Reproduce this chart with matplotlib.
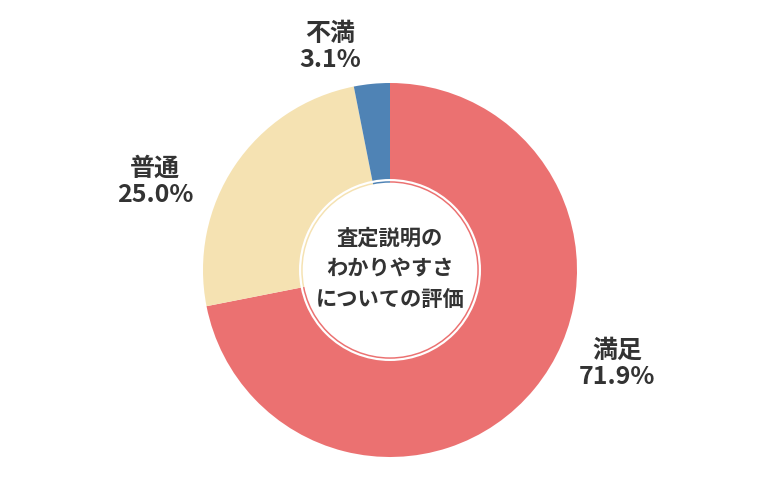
import matplotlib
matplotlib.use("Agg")
import matplotlib.pyplot as plt
from matplotlib.patches import Circle, Wedge

plt.rcParams["font.family"] = ["Noto Sans CJK JP", "DejaVu Sans"]

labels = ["満足", "普通", "不満"]
values = [71.9, 25.0, 3.1]
colors = ["#EB7171", "#F5E2B2", "#4F83B5"]
center_title = "査定説明の\nわかりやすさ\nについての評価"

# label positions in pixels (x, y from bottom)
label_pos = [(617, 136), (155, 318), (330, 453)]

fig = plt.figure(figsize=(7.8, 5), dpi=100)
ax = fig.add_axes([0, 0, 1, 1])

cx, cy, r = 390, 230, 187
ax.pie(values, colors=colors, startangle=90, counterclock=False,
       center=(cx, cy), radius=r, wedgeprops=dict(linewidth=0))

# white gap ring + white center disc
ax.add_patch(Wedge((cx, cy), 91, 0, 360, width=2.2, facecolor="white",
                   edgecolor="none", zorder=5))
ax.add_patch(Circle((cx, cy), 87.3, facecolor="white", edgecolor="none",
                    zorder=6))

ax.text(cx, cy + 1, center_title, ha="center", va="center", fontsize=15.3,
        fontweight="bold", color="#333333", linespacing=1.55, zorder=7)

for lab, val, (x, y) in zip(labels, values, label_pos):
    ax.text(x, y, f"{lab}\n{val:.1f}%", ha="center", va="center",
            fontsize=18, fontweight="bold", color="#333333",
            linespacing=1.1)

ax.set_xlim(0, 780)
ax.set_ylim(0, 500)
ax.set_aspect("equal")
ax.axis("off")

fig.savefig("out.png", dpi=100, facecolor="white")
